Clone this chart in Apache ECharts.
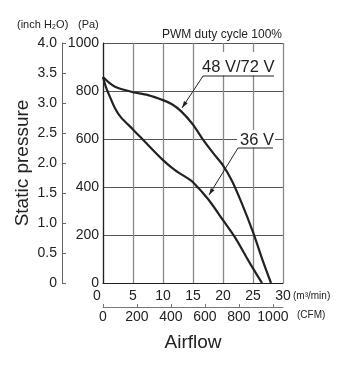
<!DOCTYPE html>
<html>
<head>
<meta charset="utf-8">
<script src="https://cdn.jsdelivr.net/npm/echarts@6/dist/echarts.min.js"></script>
<style>
  html, body { margin: 0; padding: 0; background: #fff; }
  #chart { width: 349px; height: 370px; }
</style>
</head>
<body>
<div id="chart"></div>
<script>
// airflow (m3/min) vs static pressure (Pa)
const flow48 = [0, 1, 2, 3.5, 5, 7.5, 10, 11.5, 13, 15, 16.7, 18.4, 20, 21.5, 23, 25, 26.7, 28]
const pa48 = [858, 835, 818, 805, 795, 783, 762, 745, 716, 660, 596, 540, 490, 425, 340, 212, 88, 0]
const flow36 = [0, 0.5, 1, 2, 3, 5, 7.5, 10, 12, 14, 15, 17.5, 20, 22, 24.5, 26.5]
const pa36 = [858, 815, 785, 728, 690, 640, 575, 512, 470, 438, 420, 350, 262, 190, 82, 0]

const seriesNames = ["48 V/72 V", "36 V"]
const CFM_PER_M3MIN = 1 / 0.0283168

const narrow = "'Liberation Sans Narrow', 'Arial Narrow', 'Liberation Sans', sans-serif"
const plain = "'Liberation Sans', Arial, sans-serif"
const ink = "#222"

const toPairs = (xs, ys) => xs.map((x, i) => [x, ys[i]])

// small arrow head at (x2,y2), coming from (x1,y1)
const arrowHead = (x1, y1, x2, y2) => {
  const dx = x2 - x1
  const dy = y2 - y1
  const len = Math.sqrt(dx * dx + dy * dy)
  const ux = dx / len
  const uy = dy / len
  const bx = x2 - ux * 7
  const by = y2 - uy * 7
  return {
    type: "polygon",
    shape: { points: [[x2, y2], [bx - uy * 2.2, by + ux * 2.2], [bx + uy * 2.2, by - ux * 2.2]] },
    style: { fill: ink },
    z: 20,
  }
}

const chart = echarts.init(document.getElementById("chart"))

const option = {
  animation: false,
  grid: { left: 103, top: 43, right: 66, bottom: 87 },
  xAxis: [
    {
      type: "value",
      min: 0,
      max: 30,
      interval: 5,
      position: "bottom",
      axisLine: { show: true, onZero: false, lineStyle: { color: ink, width: 1.2 } },
      axisTick: { show: false },
      axisLabel: {
        margin: 6,
        fontFamily: narrow,
        fontSize: 14,
        color: ink,
        formatter: (v) => (v === 0 ? "{z|0}" : String(v)),
        rich: { z: { fontFamily: narrow, fontSize: 14, color: ink, padding: [0, 12, 0, 0] } },
      },
      splitLine: { show: true, lineStyle: { color: "#888", width: 1.3 } },
    },
    {
      type: "value",
      min: 0,
      max: 30 * CFM_PER_M3MIN,
      interval: 200,
      position: "bottom",
      offset: 24,
      axisLine: { show: true, onZero: false, lineStyle: { color: "#777", width: 1 } },
      axisTick: { show: true, inside: true, length: 3, lineStyle: { color: "#777" } },
      axisLabel: {
        margin: 3,
        fontFamily: narrow,
        fontSize: 14,
        color: ink,
        showMaxLabel: false,
        formatter: (v) => String(v),
      },
      splitLine: { show: false },
    },
  ],
  yAxis: [
    {
      type: "value",
      min: 0,
      max: 1000,
      interval: 200,
      position: "left",
      axisLine: { show: true, onZero: false, lineStyle: { color: ink, width: 1.2 } },
      axisTick: { show: false },
      axisLabel: { margin: 4, fontFamily: narrow, fontSize: 14, color: ink, formatter: (v) => String(v) },
      splitLine: { show: true, lineStyle: { color: "#555", width: 1 } },
    },
    {
      type: "value",
      min: 0,
      max: 4,
      interval: 0.5,
      position: "left",
      offset: 41,
      axisLine: { show: true, onZero: false, lineStyle: { color: "#666", width: 1 } },
      axisTick: { show: true, inside: true, length: 4, lineStyle: { color: "#666" } },
      axisLabel: {
        margin: 5,
        fontFamily: narrow,
        fontSize: 14,
        color: ink,
        formatter: (v) => (v === 0 ? "0" : v.toFixed(1)),
      },
      splitLine: { show: false },
    },
  ],
  series: [
    {
      name: seriesNames[0],
      type: "line",
      xAxisIndex: 0,
      yAxisIndex: 0,
      data: toPairs(flow48, pa48),
      smooth: 0.3,
      showSymbol: false,
      lineStyle: { color: ink, width: 2.2 },
      z: 5,
    },
    {
      name: seriesNames[1],
      type: "line",
      xAxisIndex: 0,
      yAxisIndex: 0,
      data: toPairs(flow36, pa36),
      smooth: 0.3,
      showSymbol: false,
      lineStyle: { color: ink, width: 2.2 },
      z: 5,
    },
  ],
  graphic: [
    { type: "text", left: 17, top: 19, style: { text: "(inch H₂O)", font: "11px " + plain, fill: ink } },
    { type: "text", left: 78, top: 19, style: { text: "(Pa)", font: "11px " + plain, fill: ink } },
    {
      type: "text",
      right: 67,
      top: 29,
      style: { text: "PWM duty cycle 100%", font: "12px " + plain, fill: ink },
    },
    {
      type: "text",
      x: 23,
      y: 163,
      rotation: Math.PI / 2,
      style: {
        text: "Static pressure",
        font: "19px " + plain,
        fill: ink,
        align: "center",
        verticalAlign: "middle",
      },
    },
    {
      type: "text",
      x: 193,
      y: 343,
      style: { text: "Airflow", font: "19px " + plain, fill: ink, align: "center", verticalAlign: "middle" },
    },
    { type: "text", x: 293, y: 296, style: { text: "(m³/min)", font: "10px " + plain, fill: ink, verticalAlign: "middle" } },
    { type: "text", x: 297, y: 315, style: { text: "(CFM)", font: "10px " + plain, fill: ink, verticalAlign: "middle" } },

    // 48 V/72 V label
    { type: "rect", shape: { x: 200, y: 52, width: 77, height: 23.5 }, style: { fill: "#fff" }, z: 10 },
    {
      type: "text",
      x: 202,
      y: 67,
      z: 11,
      style: { text: seriesNames[0], font: "16.5px " + plain, fill: ink, verticalAlign: "middle" },
    },
    {
      type: "polyline",
      z: 12,
      shape: { points: [[274, 76], [203, 76], [182, 108]] },
      style: { stroke: ink, lineWidth: 1, fill: null },
    },
    arrowHead(203, 76, 182, 108),

    // 36 V label
    { type: "rect", shape: { x: 237, y: 130, width: 38, height: 17.5 }, style: { fill: "#fff" }, z: 10 },
    {
      type: "text",
      x: 240,
      y: 140,
      z: 11,
      style: { text: seriesNames[1], font: "16.5px " + plain, fill: ink, verticalAlign: "middle" },
    },
    {
      type: "polyline",
      z: 12,
      shape: { points: [[273, 148], [238, 148], [209, 195]] },
      style: { stroke: ink, lineWidth: 1, fill: null },
    },
    arrowHead(238, 148, 209, 195),
  ],
}

chart.setOption(option)
window.addEventListener("resize", () => {
  chart.resize()
})
</script>
</body>
</html>
